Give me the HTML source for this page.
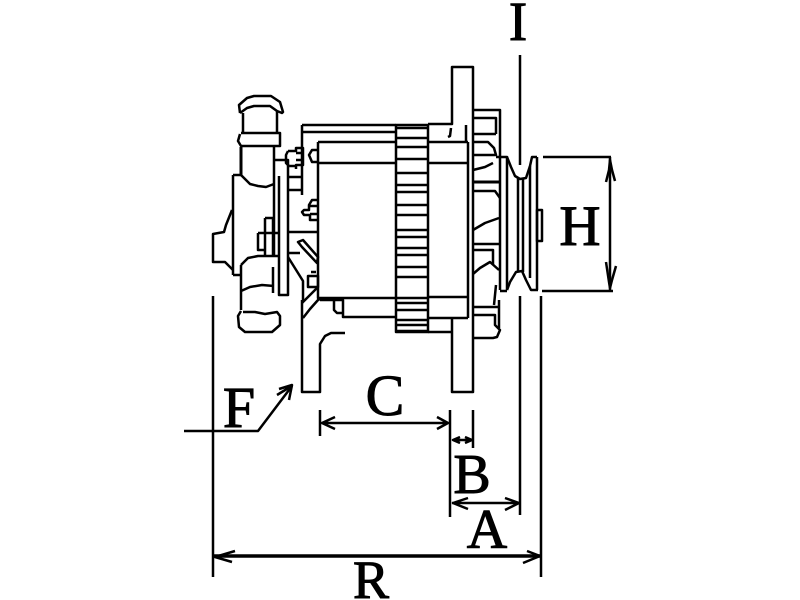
<!DOCTYPE html>
<html><head><meta charset="utf-8"><style>
html,body{margin:0;padding:0;background:#fff;width:800px;height:600px;overflow:hidden}
svg{display:block}
text{font-family:"Liberation Serif",serif;fill:#000;stroke:#000;stroke-width:1}
</style></head><body>
<svg width="800" height="600" viewBox="0 0 800 600" xmlns="http://www.w3.org/2000/svg">
<g fill="none" stroke="#000" stroke-width="2.5" stroke-linejoin="round">
<!-- top cap and tube -->
<path d="M240 113L239 105 247 98 254 96H271L280 102 283 112 282 113 277 111 270 106H254L247 108 240 113"/>
<path d="M243 113V133M277 111V133"/>
<path d="M241 133H280V146H241L238 141 240 134"/>
<path d="M241 147V175" stroke-width="3"/>
<path d="M274 146V255"/>
<path d="M241 175L250 184 258 186 266 187 274 184"/>
<path d="M233 175H241"/>
<path d="M233 175V275"/>
<path d="M232 210L226 225 224 232 213 234V262H225L233 270"/>
<path d="M233 275H241"/>
<path d="M241 265V310"/>
<path d="M241 265L248 258 258 256H279"/>
<path d="M241 291L250 287 262 285 274 286"/>
<path d="M273 267V293"/>
<path d="M241 311L238 316 239 327 245 332H272L280 325 280 316 277 312 265 314 255 312 243 312"/>
<path d="M258 233H279M258 233V250H265M265 218H273V255M265 218V255"/>
<!-- plate -->
<path d="M279 176V295H288V160H274"/>
<path d="M302 125V195"/>
<path d="M302 125H396M302 132H396M318 142H396M318 163H396"/>
<path d="M318 142V298H396"/>
<path d="M288 177H302M288 190H302M288 232H318M288 253H300"/>
<!-- bolts -->
<path d="M288 151H296V148H303V165H296V169M296 153H303M296 160H303M288 151L286 155V163L289 166H296"/>
<path d="M318 150H312L309 155 312 162H318"/>
<path d="M318 200H312L309 205V210H304L302 212 304 215H310V220H318M310 206H318M310 214H318"/>
<path d="M298 242L303 240 318 257 317 263 302 247Z"/>
<path d="M288 257L303 281 303 300M308 276H318V287H308ZM311 272H316"/>
<path d="M302 303L318 287"/>
<path d="M303 318L310 309 318 300 320 299H333"/>
<!-- bracket -->
<path d="M302 300V392H320V344L325 336 331 333H345"/>
<path d="M320 300H343V317H396M334 300V310L337 313H343"/>
<!-- fin block -->
<path d="M396 125V332H428V125Z"/>
<path d="M396 128H428M396 138H428M396 147H428M396 159H428M396 173H428M396 185H428M396 192H428M396 205H428M396 215H428M396 230H428M396 237H428M396 248H428M396 255H428M396 267H428M396 277H428M396 298H428M396 303H428M396 310H428M396 320H428M396 325H428M396 331H428"/>
<!-- flange -->
<path d="M428 124H452V67H473V392H452V318"/>
<path d="M428 142H468M428 163H468M428 297H468M428 318H468"/>
<path d="M468 142V318M466 125V142"/>
<path d="M428 332H452"/>
<path d="M451 128L450 136 448 137"/>
<!-- rear -->
<path d="M473 110H500V290"/>
<path d="M473 118H496V134"/>
<path d="M473 134H496M473 142H488L494 148 496 155H473"/>
<path d="M473 170L485 167 493 163"/>
<path d="M473 182H500" stroke-width="3"/>
<path d="M473 191H495L500 198"/>
<path d="M473 230L485 223 499 218"/>
<path d="M473 244H499M473 250H493V265"/>
<path d="M473 274L480 268 490 262 499 270"/>
<path d="M496 285L494 305M473 307H498M473 315H495V325L500 330 497 337 493 338H473"/>
<path d="M499 300V328"/>
<!-- pulley -->
<path d="M496 157H507V290M500 291H507"/>
<path d="M507 157L511 167 515 176 520 179 526 178 530 166 532 157H537"/>
<path d="M518 178V272M523 178V272M530 166V278M537 157V290"/>
<path d="M507 290L510 282 516 272 522 271 526 280 531 290H538"/>
<rect x="537" y="210" width="5" height="31"/>
<!-- dimensions -->
<path d="M520 55V165M520 296V515M541 296V577M213 296V577"/>
<path d="M543 157H611M542 291H613M610 157V291"/>
<path d="M606 182L609 170 610 160 612 170 615 181M606 262L609 282 610 288 612 280 616 266"/>
<path d="M320 410V436M450 410V517M473 410V448"/>
<path d="M322 423H448M335 417L322 423 335 429M437 417L448 423 437 429"/>
<path d="M453 440H472M460 437L453 440 460 443M465 437L472 440 465 443"/>
<path d="M452 503H519M468 498L453 503 468 509M505 498L519 503 505 510"/>
<path d="M213 556H541" stroke-width="3.5"/>
<path d="M235 551L215 557 232 562M527 551L540 556 523 563"/>
<path d="M184 431H258L292 386" />
<path d="M279 389L292 385 289 400M277 395L290 387"/>
</g>
<text x="518" y="40" font-size="55" text-anchor="middle">I</text>
<text x="580" y="245" font-size="57" text-anchor="middle">H</text>
<text x="239" y="427" font-size="58" text-anchor="middle">F</text>
<text x="385" y="415" font-size="58" text-anchor="middle">C</text>
<text x="472" y="493" font-size="56" text-anchor="middle">B</text>
<text x="487" y="548" font-size="56" text-anchor="middle">A</text>
<text x="371" y="598" font-size="54" text-anchor="middle">R</text>
</svg>
</body></html>
